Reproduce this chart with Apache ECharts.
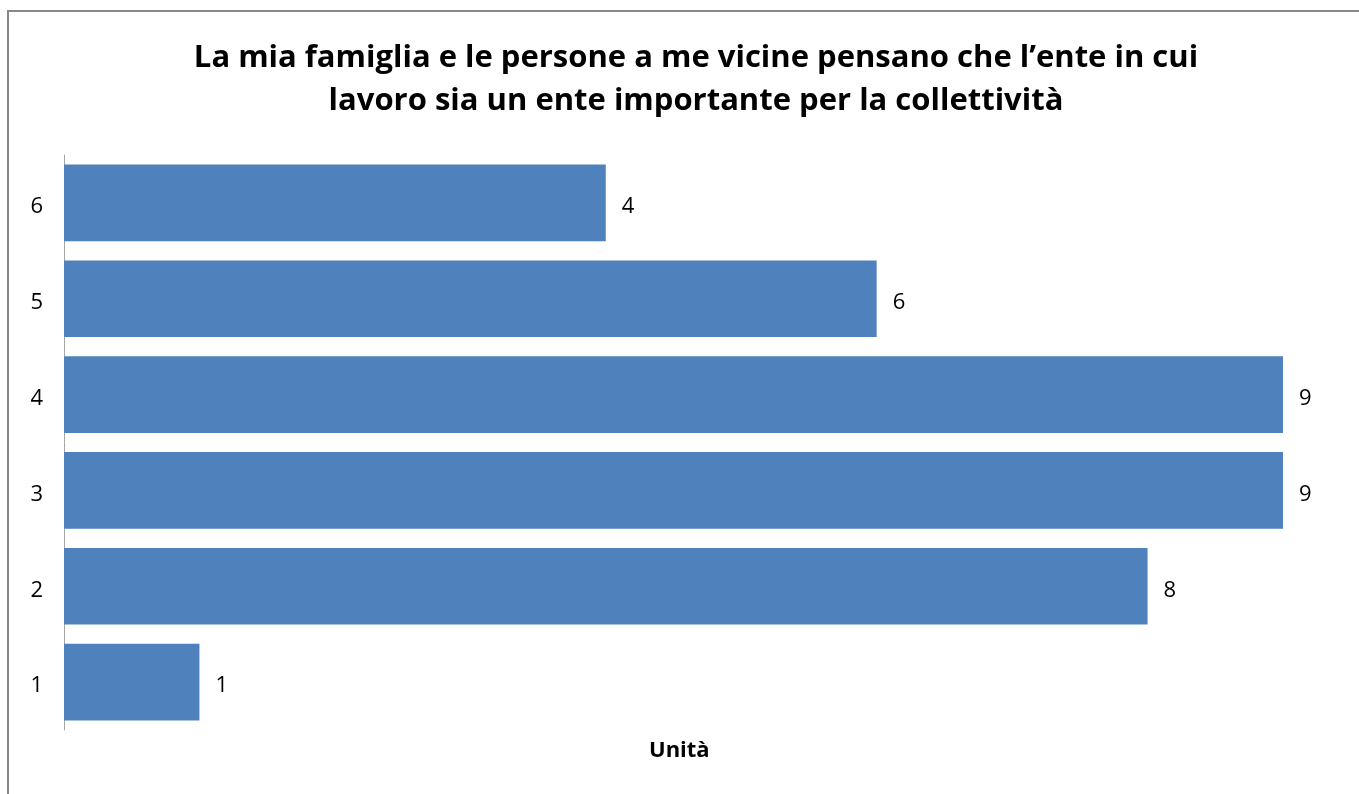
<!DOCTYPE html>
<html><head><meta charset="utf-8">
<script src="https://cdn.jsdelivr.net/npm/echarts@6/dist/echarts.min.js"></script>
<style>html,body{margin:0;padding:0;background:#fff}#c{width:1359px;height:794px}</style>
</head><body><div id="c"></div>
<script>
const categories = ['1','2','3','4','5','6'];
const values = [1, 8, 9, 9, 6, 4];
const titleText = 'La mia famiglia e le persone a me vicine pensano che l\u2019ente in cui\nlavoro sia un ente importante per la collettivit\u00e0';
const axisName = 'Unit\u00e0';

const chart = echarts.init(document.getElementById('c'), null, {renderer:'canvas'});
chart.setOption({
  animation: false,
  backgroundColor: '#fff',
  title: {
    text: titleText,
    left: 691, top: 32, textAlign: 'center',
    textStyle: {fontFamily: 'Open Sans', fontWeight: 'bold', fontSize: 31, lineHeight: 43, color: '#000'}
  },
  grid: {left: 64, right: 76, top: 155, bottom: 64},
  xAxis: {
    type: 'value', min: 0, max: 9,
    axisLine: {show: false}, axisTick: {show: false}, axisLabel: {show: false}, splitLine: {show: false}
  },
  yAxis: {
    type: 'category', data: categories,
    axisLine: {show: true, lineStyle: {color: '#a6a6a6', width: 1}},
    axisTick: {show: false},
    axisLabel: {
      margin: 21,
      formatter: '{a|{value}}',
      rich: {a: {color: '#000', fontFamily: 'Open Sans', fontSize: 22, padding: [8, 0, 0, 0]}}
    }
  },
  series: [{
    type: 'bar', data: values, barCategoryGap: '20%',
    itemStyle: {color: '#4f81bd'},
    label: {show: true, position: 'right', distance: 16, offset: [0, 4], color: '#000', fontFamily: 'Open Sans', fontSize: 22}
  }],
  graphic: [
    {type: 'rect', shape: {x: 8, y: 11, width: 1500, height: 1000}, style: {fill: 'none', stroke: '#898989', lineWidth: 2}, silent: true},
    {type: 'text', left: 649, top: 740, style: {text: axisName, fontFamily: 'Open Sans', fontWeight: 'bold', fontSize: 22, fill: '#000'}}
  ]
});
</script></body></html>
